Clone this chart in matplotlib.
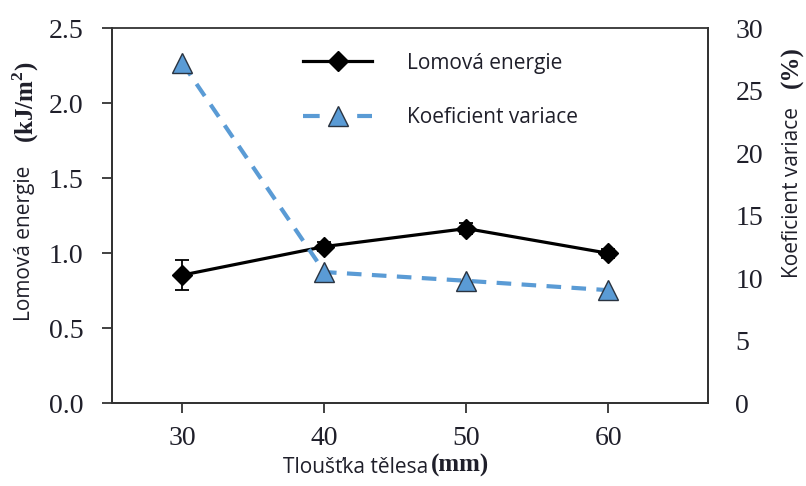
import matplotlib.pyplot as plt
from matplotlib.lines import Line2D

plt.rcParams['mathtext.fontset'] = 'custom'
plt.rcParams['mathtext.rm'] = 'Liberation Serif:bold'
plt.rcParams['mathtext.bf'] = 'Liberation Serif:bold'

# data
thickness = [30, 40, 50, 60]
energy = [0.855, 1.045, 1.165, 1.0]
energy_err = [0.10, 0.03, 0.035, 0.03]
cov = [27.2, 10.5, 9.8, 9.05]

txt = '#1f1f2a'
blue = '#5a9bd5'
serif = 'Liberation Serif'
sans = 'Open Sans'

fig = plt.figure(figsize=(8.06, 4.86), dpi=100)
ax = fig.add_axes([111.5 / 806, 1 - 403.3 / 486, (707.7 - 111.5) / 806, (403.3 - 28.3) / 486])
ax2 = ax.twinx()

ax.errorbar(thickness, energy, yerr=energy_err, color='black', lw=2.3, marker='D', ms=10,
            capsize=5, elinewidth=1.3, capthick=1.3, zorder=3)
ax2.plot(thickness, cov, color=blue, lw=3, ls=(0, (3.5, 2.5)), marker='^', ms=14,
         mfc=blue, mec='#2a3340', mew=1, zorder=3)

ax.set_xlim(25, 67)
ax.set_ylim(0, 2.5)
ax2.set_ylim(0, 30)
ax.set_xticks(thickness)
ax.set_yticks([0, 0.5, 1.0, 1.5, 2.0, 2.5])
ax.set_yticklabels(['%.1f' % v for v in [0, 0.5, 1.0, 1.5, 2.0, 2.5]])
ax2.set_yticks([0, 5, 10, 15, 20, 25, 30])

for a in (ax, ax2):
    for s in a.spines.values():
        s.set_linewidth(1.3)
        s.set_color('#333333')
    a.tick_params(labelsize=20, colors='#333333', labelcolor=txt, width=1.3, length=7)
    for lab in a.get_xticklabels() + a.get_yticklabels():
        lab.set_fontfamily(serif)
ax.tick_params(axis='y', pad=13)
ax.tick_params(axis='x', pad=9)
ax2.tick_params(axis='y', length=0, pad=20)
ax2.spines['top'].set_visible(False)

# axis labels (sans text + bold serif units)
fig.text(25 / 806, 1 - 243 / 486, 'Lomová energie', rotation=90, fontsize=15, family=sans,
         color=txt, ha='center', va='center')
fig.text(26 / 806, 1 - 102 / 486, '(kJ/m$^2$)', rotation=90, fontsize=18, family=serif,
         weight='bold', color=txt, ha='center', va='center')
fig.text(792 / 806, 1 - 192 / 486, 'Koeficient variace', rotation=90, fontsize=15, family=sans,
         color=txt, ha='center', va='center')
fig.text(792 / 806, 1 - 67 / 486, '(%)', rotation=90, fontsize=18, family=serif,
         weight='bold', color=txt, ha='center', va='center')
fig.text(428 / 806, 1 - 467 / 486, 'Tloušťka tělesa', fontsize=15, family=sans,
         color=txt, ha='right', va='center')
fig.text(431 / 806, 1 - 465 / 486, '(mm)', fontsize=18, family=serif, weight='bold',
         color=txt, ha='left', va='center')

handles = [Line2D([], [], color='black', lw=2.3, marker='D', ms=10),
           Line2D([], [], color=blue, lw=3, ls=(0, (4, 9)), marker='^', ms=14,
                  mfc=blue, mec='#2a3340', mew=1)]
leg = ax.legend(handles, ['Lomová energie', 'Koeficient variace'], frameon=False,
                loc='upper left', bbox_to_anchor=(0.29, 0.985), handlelength=3.3,
                handletextpad=1.7, labelspacing=1.6, prop={'family': sans, 'size': 15})
for t in leg.get_texts():
    t.set_color(txt)

fig.savefig('out.png', dpi=100)
